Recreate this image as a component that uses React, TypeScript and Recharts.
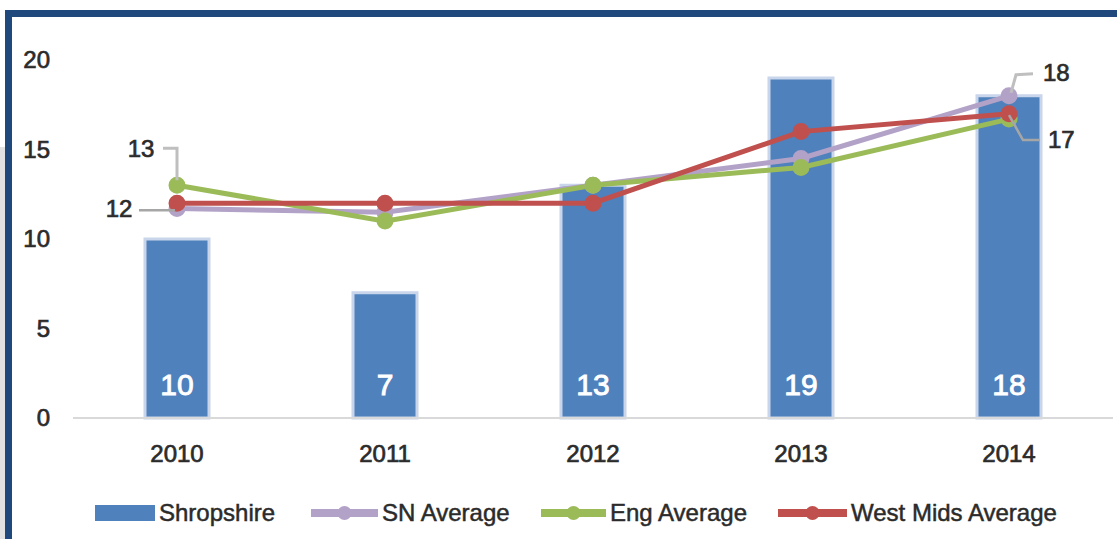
import React from 'react';
import { ComposedChart, Bar, Line, XAxis, YAxis, LabelList } from 'recharts';

const years = ['2010', '2011', '2012', '2013', '2014'];
const shropshire = [10, 7, 13, 19, 18];
const snAverage = [11.7, 11.5, 13, 14.5, 18];
const engAverage = [13, 11, 13, 14, 16.7];
const westMidsAverage = [12, 12, 12, 16, 17];
const yTicks = [0, 5, 10, 15, 20];

const seriesNames = ['Shropshire', 'SN Average', 'Eng Average', 'West Mids Average'];
const seriesColors = ['#4F81BD', '#B3A2C7', '#9BBB59', '#C0504D'];

const data = years.map((y, i) => ({
  year: y,
  shropshire: shropshire[i],
  sn: snAverage[i],
  eng: engAverage[i],
  wm: westMidsAverage[i],
}));

const FONT = '"Liberation Sans", Arial, sans-serif';
const TEXT = '#2b2b2b';

const XTick = (props: any) => {
  const { x, y, payload } = props;
  return (
    <text x={x} y={y + 36} textAnchor="middle" fontFamily={FONT} fontSize={24} fill={TEXT} stroke={TEXT} strokeWidth={0.7}>
      {payload.value}
    </text>
  );
};

const YTick = (props: any) => {
  const { y, payload } = props;
  return (
    <text x={50} y={y} dy={8} textAnchor="end" fontFamily={FONT} fontSize={24} fill={TEXT} stroke={TEXT} strokeWidth={0.7}>
      {payload.value}
    </text>
  );
};

const BarLabel = (props: any) => {
  const { x, y, width, height, value } = props;
  return (
    <text
      x={x + width / 2}
      y={y + height - 34}
      dy={11}
      textAnchor="middle"
      fontFamily={FONT}
      fontSize={30}
      fill="#ffffff"
      stroke="#ffffff"
      strokeWidth={0.9}
    >
      {value}
    </text>
  );
};

const labelText = (x: number, y: number, v: any, anchor: string) => (
  <text x={x} y={y} dy={8} textAnchor={anchor as any} fontFamily={FONT} fontSize={24} fill={TEXT} stroke={TEXT} strokeWidth={0.7}>
    {Math.round(Number(v))}
  </text>
);

const EngLabel = (props: any) => {
  const { x, y, value, index } = props;
  if (index === 0) {
    return (
      <g>
        <path d={`M${x},${y - 5} L${x},${y - 37} L${x - 14},${y - 37}`} stroke="#BFBFBF" strokeWidth={3} fill="none" />
        {labelText(x - 36, y - 36, value, 'middle')}
      </g>
    );
  }
  if (index === 4) {
    return (
      <g>
        <path d={`M${x},${y - 4} L${x + 14},${y + 21} L${x + 30},${y + 21}`} stroke="#A6A6A6" strokeWidth={2.5} fill="none" />
        {labelText(x + 39, y + 21, value, 'start')}
      </g>
    );
  }
  return null;
};

const WmLabel = (props: any) => {
  const { x, y, value, index } = props;
  if (index === 0) {
    return (
      <g>
        <path d={`M${x - 2},${y + 7} L${x - 38},${y + 7}`} stroke="#A6A6A6" strokeWidth={2.5} fill="none" />
        {labelText(x - 58, y + 6, value, 'middle')}
      </g>
    );
  }
  return null;
};

const SnLabel = (props: any) => {
  const { x, y, value, index } = props;
  if (index === 4) {
    return (
      <g>
        <path d={`M${x + 2},${y - 3} L${x + 7},${y - 21} L${x + 24},${y - 22}`} stroke="#BFBFBF" strokeWidth={3} fill="none" />
        {labelText(x + 34, y - 23, value, 'start')}
      </g>
    );
  }
  return null;
};

const legendX = [95, 311, 541, 778];
const legendW = [60, 67, 65, 69];

export default function App() {
  return (
    <div style={{ position: 'absolute', left: 0, top: 0, width: 1117, height: 539, background: '#fff', overflow: 'hidden' }}>
      <div style={{ position: 'absolute', left: 0, top: 147, width: 5, height: 392, background: '#E2E2E2' }} />
      <div style={{ position: 'absolute', left: 5, top: 10, width: 1112, height: 7, background: '#1F497D' }} />
      <div style={{ position: 'absolute', left: 5, top: 10, width: 7, height: 529, background: '#1F497D' }} />
      <div style={{ position: 'absolute', left: 0, top: 0 }}>
        <ComposedChart
          width={1117}
          height={539}
          data={data}
          margin={{ top: 60, right: 4, bottom: 0, left: 0 }}
        >
          <XAxis
            dataKey="year"
            height={121}
            tickLine={false}
            axisLine={{ stroke: '#D9D9D9', strokeWidth: 2 }}
            tick={<XTick />}
            interval={0}
          />
          <YAxis
            width={73}
            domain={[0, 20]}
            ticks={yTicks}
            axisLine={false}
            tickLine={false}
            tick={<YTick />}
          />
          <Bar dataKey="shropshire" fill={seriesColors[0]} stroke="#C8D5EA" strokeWidth={3} barSize={64} isAnimationActive={false}>
            <LabelList dataKey="shropshire" content={<BarLabel />} />
          </Bar>
          <Line dataKey="sn" stroke={seriesColors[1]} strokeWidth={5} dot={{ r: 6, fill: seriesColors[1], stroke: seriesColors[1] }} activeDot={false} isAnimationActive={false}>
            <LabelList dataKey="sn" content={<SnLabel />} />
          </Line>
          <Line dataKey="eng" stroke={seriesColors[2]} strokeWidth={5} dot={{ r: 6, fill: seriesColors[2], stroke: seriesColors[2] }} activeDot={false} isAnimationActive={false}>
            <LabelList dataKey="eng" content={<EngLabel />} />
          </Line>
          <Line dataKey="wm" stroke={seriesColors[3]} strokeWidth={5} dot={{ r: 6, fill: seriesColors[3], stroke: seriesColors[3] }} activeDot={false} isAnimationActive={false}>
            <LabelList dataKey="wm" content={<WmLabel />} />
          </Line>
        </ComposedChart>
      </div>
      <svg style={{ position: 'absolute', left: 0, top: 0 }} width={1117} height={539}>
        {seriesNames.map((name, i) => (
          <g key={name}>
            {i === 0 ? (
              <rect x={legendX[i]} y={505} width={legendW[i]} height={16} fill={seriesColors[i]} />
            ) : (
              <g>
                <line x1={legendX[i]} y1={513} x2={legendX[i] + legendW[i]} y2={513} stroke={seriesColors[i]} strokeWidth={8} />
                <circle cx={legendX[i] + legendW[i] / 2} cy={513} r={7} fill={seriesColors[i]} />
              </g>
            )}
            <text x={legendX[i] + legendW[i] + 4} y={521} fontFamily={FONT} fontSize={24} fill={TEXT} stroke={TEXT} strokeWidth={0.5}>
              {name}
            </text>
          </g>
        ))}
      </svg>
    </div>
  );
}
